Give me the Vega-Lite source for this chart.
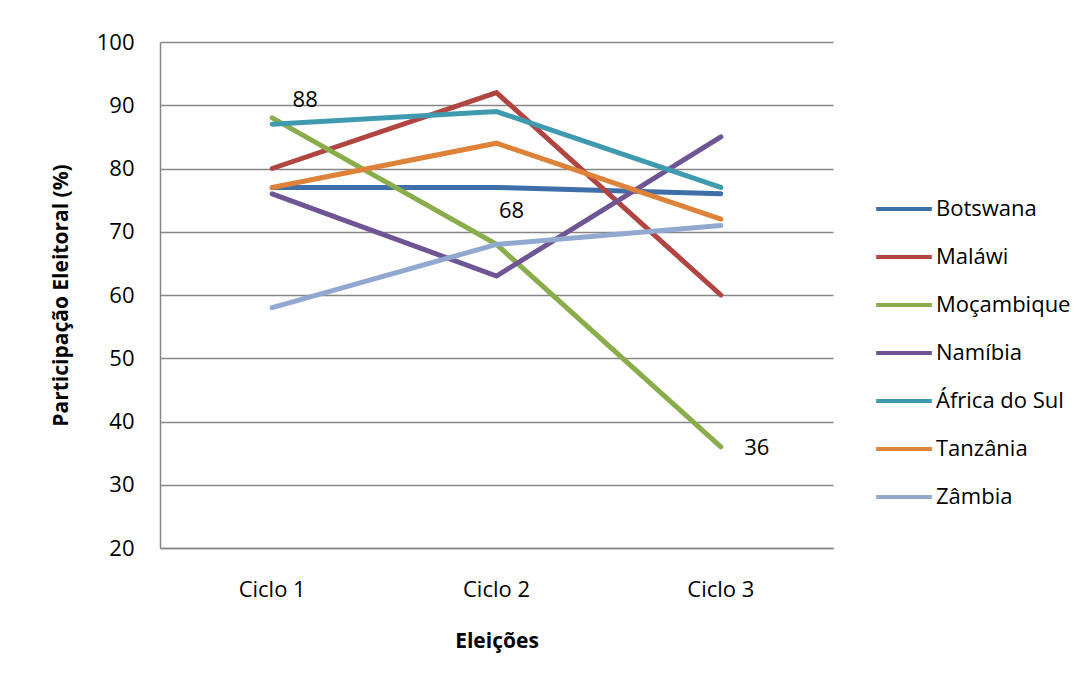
{
  "$schema": "https://vega.github.io/schema/vega-lite/v6.json",
  "autosize": {"type": "none"},
  "padding": {"left": 160, "top": 42, "right": 258, "bottom": 138},
  "width": 673,
  "height": 506,
  "background": "white",
  "config": {
    "view": {"stroke": null},
    "font": "Open Sans",
    "axis": {"labelFont": "Open Sans", "titleFont": "Open Sans", "labelColor": "black", "titleColor": "black"}
  },
  "data": {
    "values": [
      {"pais": "Botswana", "ciclo": "Ciclo 1", "valor": 77},
      {"pais": "Botswana", "ciclo": "Ciclo 2", "valor": 77},
      {"pais": "Botswana", "ciclo": "Ciclo 3", "valor": 76},
      {"pais": "Maláwi", "ciclo": "Ciclo 1", "valor": 80},
      {"pais": "Maláwi", "ciclo": "Ciclo 2", "valor": 92},
      {"pais": "Maláwi", "ciclo": "Ciclo 3", "valor": 60},
      {"pais": "Moçambique", "ciclo": "Ciclo 1", "valor": 88},
      {"pais": "Moçambique", "ciclo": "Ciclo 2", "valor": 68},
      {"pais": "Moçambique", "ciclo": "Ciclo 3", "valor": 36},
      {"pais": "Namíbia", "ciclo": "Ciclo 1", "valor": 76},
      {"pais": "Namíbia", "ciclo": "Ciclo 2", "valor": 63},
      {"pais": "Namíbia", "ciclo": "Ciclo 3", "valor": 85},
      {"pais": "África do Sul", "ciclo": "Ciclo 1", "valor": 87},
      {"pais": "África do Sul", "ciclo": "Ciclo 2", "valor": 89},
      {"pais": "África do Sul", "ciclo": "Ciclo 3", "valor": 77},
      {"pais": "Tanzânia", "ciclo": "Ciclo 1", "valor": 77},
      {"pais": "Tanzânia", "ciclo": "Ciclo 2", "valor": 84},
      {"pais": "Tanzânia", "ciclo": "Ciclo 3", "valor": 72},
      {"pais": "Zâmbia", "ciclo": "Ciclo 1", "valor": 58},
      {"pais": "Zâmbia", "ciclo": "Ciclo 2", "valor": 68},
      {"pais": "Zâmbia", "ciclo": "Ciclo 3", "valor": 71}
    ]
  },
  "encoding": {
    "x": {
      "field": "ciclo", "type": "nominal",
      "scale": {"type": "band", "paddingInner": 0, "paddingOuter": 0},
      "axis": {
        "title": "Eleições", "labelAngle": 0, "labelFontSize": 22, "titleFontSize": 21, "titleFontWeight": "bold",
        "ticks": false, "domainColor": "#868686", "domainWidth": 1.5, "labelPadding": 31, "titlePadding": 30
      }
    },
    "y": {
      "field": "valor", "type": "quantitative",
      "scale": {"domain": [20, 100], "nice": false, "zero": false},
      "axis": {
        "title": "Participação Eleitoral (%)", "values": [20, 30, 40, 50, 60, 70, 80, 90, 100],
        "labelFontSize": 22, "titleFontSize": 21, "titleFontWeight": "bold",
        "ticks": false, "domainColor": "#868686", "domainWidth": 1.5, "gridColor": "#868686", "gridWidth": 1.5,
        "labelPadding": 26, "titlePadding": 25
      }
    }
  },
  "layer": [
    {
      "mark": {"type": "line", "strokeWidth": 5, "strokeCap": "round"},
      "encoding": {
        "color": {
          "field": "pais", "type": "nominal",
          "scale": {
            "domain": ["Botswana", "Maláwi", "Moçambique", "Namíbia", "África do Sul", "Tanzânia", "Zâmbia"],
            "range": ["#3f6fa8", "#b04541", "#8aad4b", "#6f5594", "#3f9ab0", "#dd8238", "#91a9d0"]
          },
          "legend": {
            "title": null, "orient": "none", "legendX": 714, "legendY": 137,
            "symbolType": "stroke", "symbolSize": 3100, "symbolStrokeWidth": 4,
            "labelFontSize": 22, "labelColor": "black", "labelOffset": 2, "rowPadding": 7, "labelFont": "Open Sans"
          }
        }
      }
    },
    {
      "transform": [{"filter": "datum.pais == 'Moçambique' && datum.ciclo == 'Ciclo 1'"}],
      "mark": {"type": "text", "fontSize": 22, "dx": 33, "dy": -18, "color": "black"},
      "encoding": {"text": {"field": "valor"}}
    },
    {
      "transform": [{"filter": "datum.pais == 'Moçambique' && datum.ciclo == 'Ciclo 2'"}],
      "mark": {"type": "text", "fontSize": 22, "dx": 15, "dy": -33, "color": "black"},
      "encoding": {"text": {"field": "valor"}}
    },
    {
      "transform": [{"filter": "datum.pais == 'Moçambique' && datum.ciclo == 'Ciclo 3'"}],
      "mark": {"type": "text", "fontSize": 22, "dx": 36, "dy": 1, "color": "black"},
      "encoding": {"text": {"field": "valor"}}
    }
  ]
}
